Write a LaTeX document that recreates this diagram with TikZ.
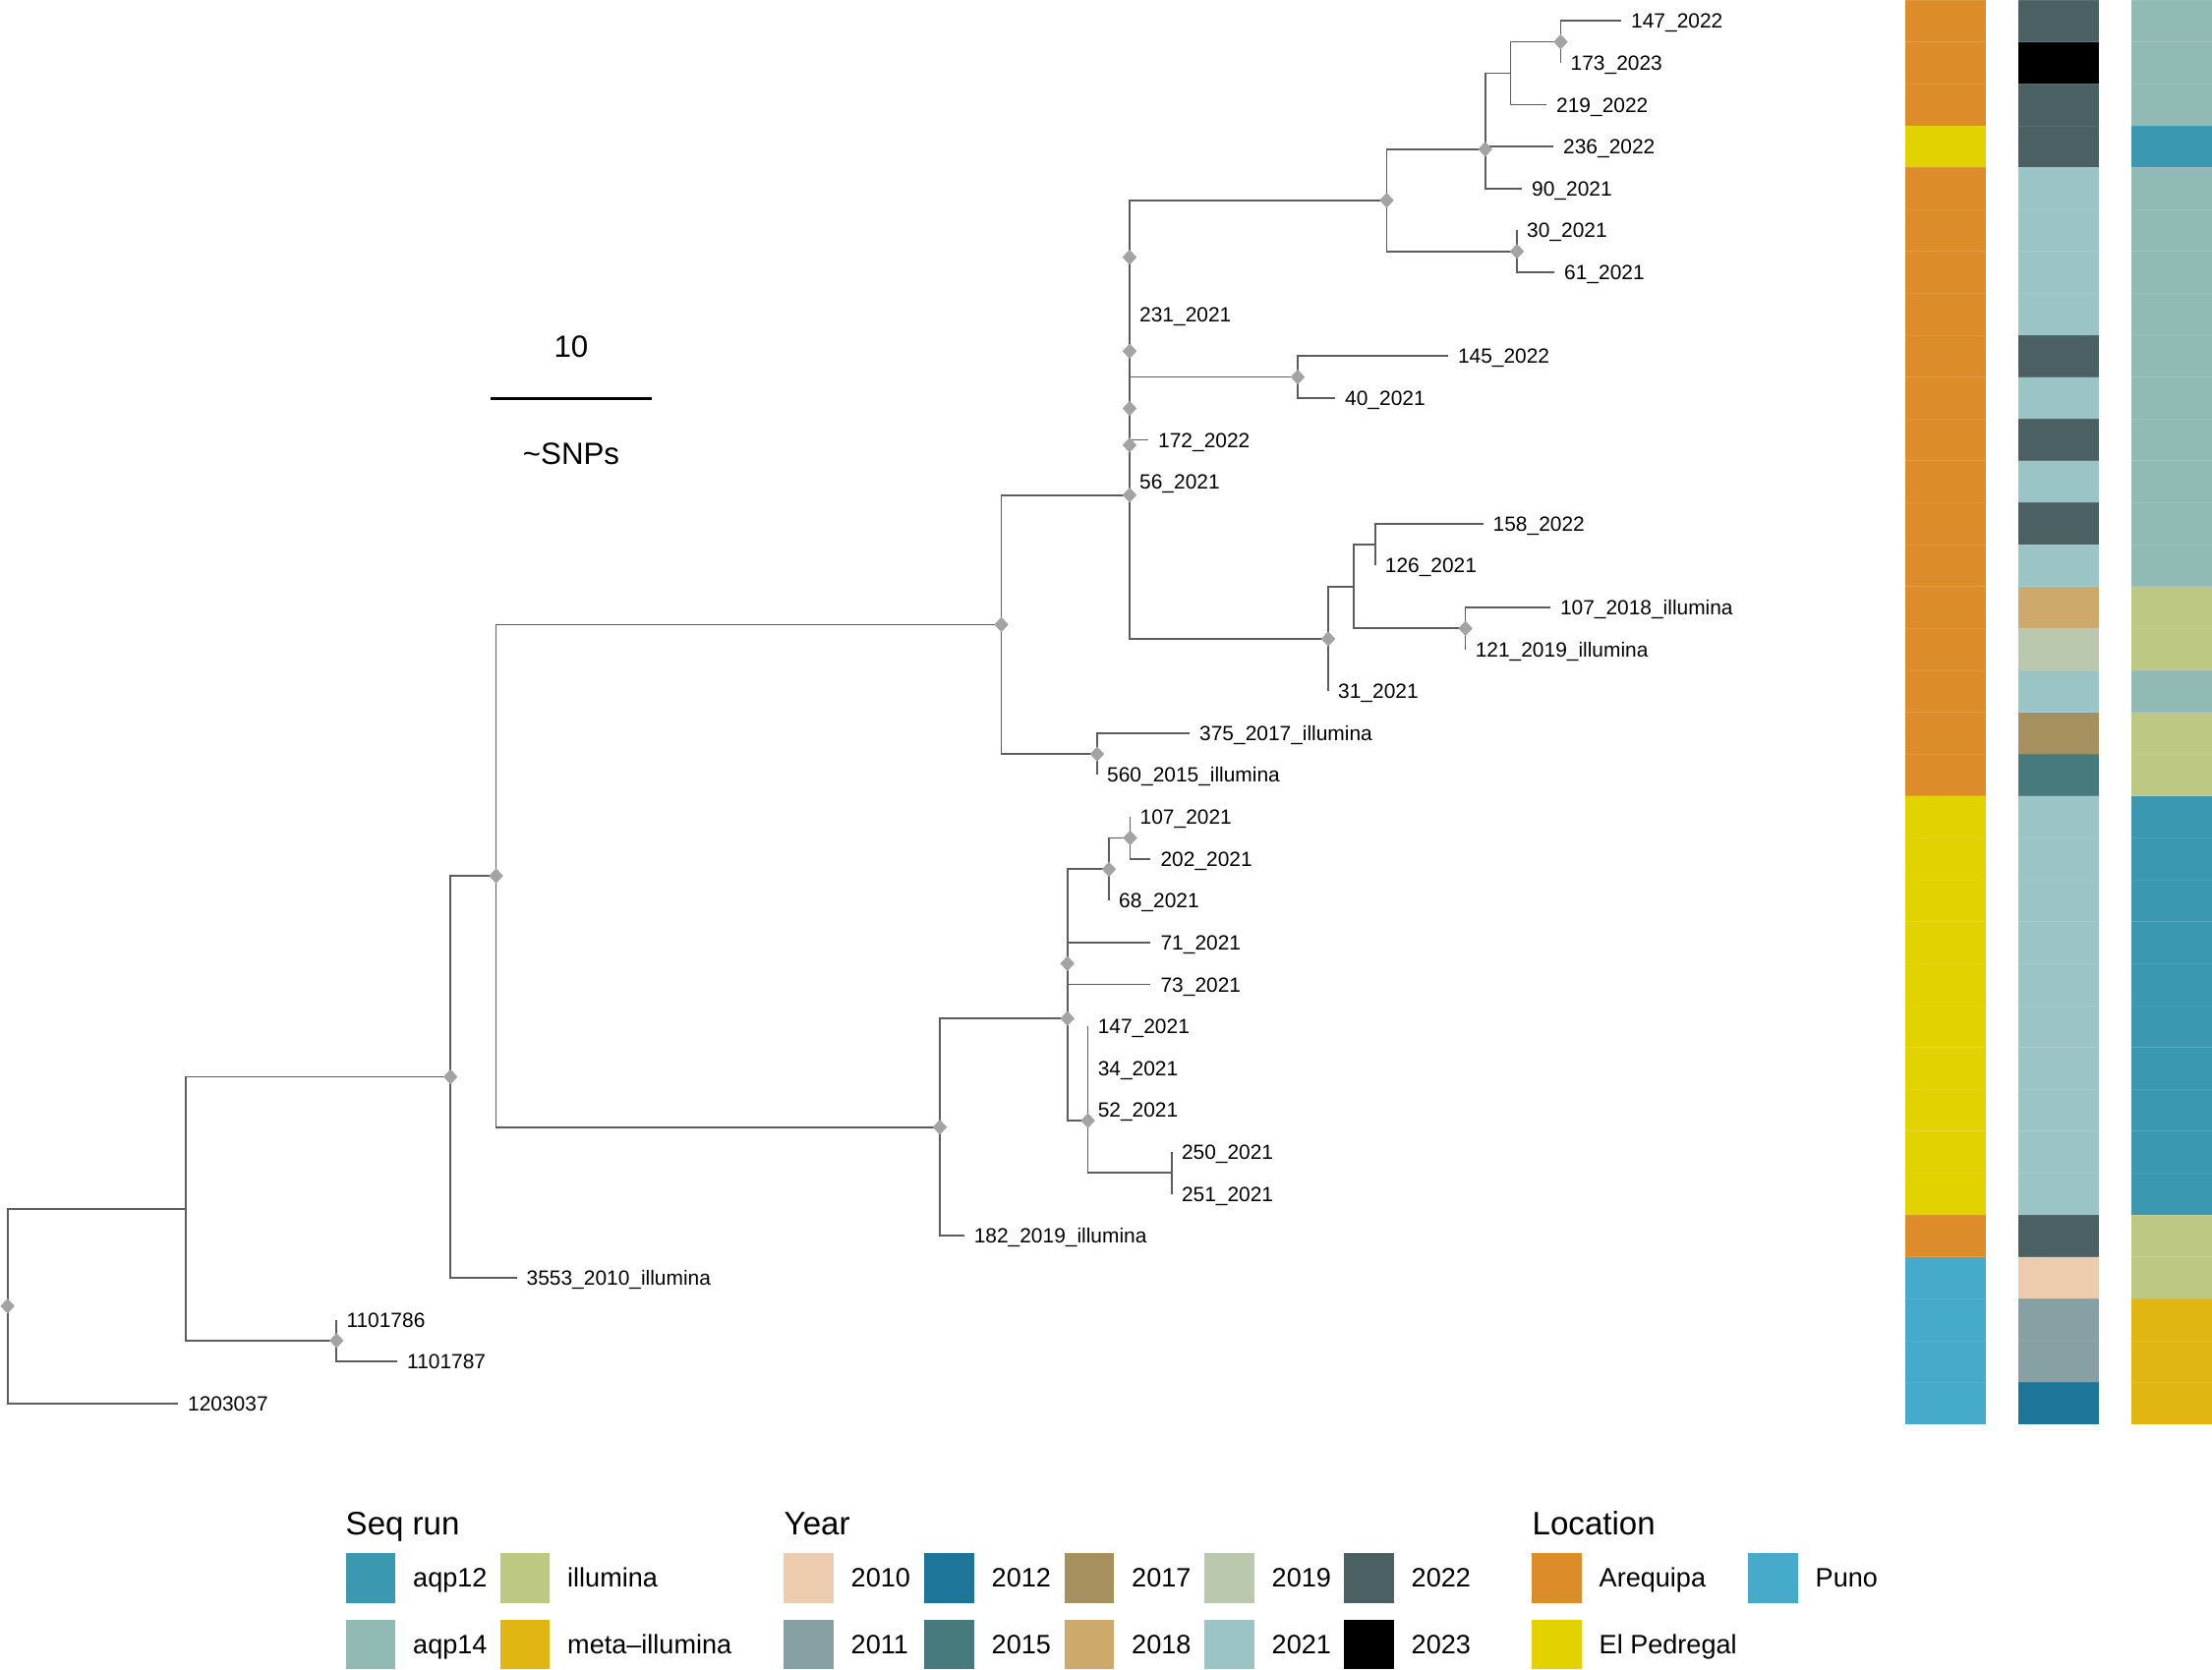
\documentclass[tikz,border=0pt]{standalone}
\usepackage{fontspec}
\setmainfont{Liberation Sans}
\usetikzlibrary{shapes.geometric}

% tree colours
\definecolor{treeline}{HTML}{5C5C5C}
\definecolor{supportgray}{HTML}{A3A3A3}
% location
\definecolor{locAQ}{HTML}{DD8C2A}
\definecolor{locEP}{HTML}{E2D200}
\definecolor{locPU}{HTML}{46ABCA}
% year
\definecolor{y2010}{HTML}{EDCBAE}
\definecolor{y2011}{HTML}{86A0A3}
\definecolor{y2012}{HTML}{1D759A}
\definecolor{y2015}{HTML}{467A7D}
\definecolor{y2017}{HTML}{A6905E}
\definecolor{y2018}{HTML}{CEA96C}
\definecolor{y2019}{HTML}{BAC9AE}
\definecolor{y2021}{HTML}{9AC4C6}
\definecolor{y2022}{HTML}{4B6063}
\definecolor{y2023}{HTML}{000000}
% sequencing run
\definecolor{sqA12}{HTML}{3A98B0}
\definecolor{sqA14}{HTML}{92BAB5}
\definecolor{sqILL}{HTML}{BDC982}
\definecolor{sqMETA}{HTML}{E1B612}

\begin{document}
\begin{tikzpicture}[x=0.01cm,y=-0.01cm,
  branch/.style={draw=treeline, line width=0.5pt},
  support/.style={diamond, fill=supportgray, draw=none, inner sep=0pt,
    minimum width=0.15cm, minimum height=0.16cm},
  tiplabel/.style={anchor=base west, inner sep=0pt, xshift=0.095cm, yshift=-0.075cm,
    font=\fontsize{5.95pt}{7pt}\selectfont},
  legtitle/.style={anchor=base west, inner sep=0pt, font=\fontsize{9.4pt}{11pt}\selectfont},
  leglabel/.style={anchor=base west, inner sep=0pt, yshift=-2.75pt,
    font=\fontsize{7.7pt}{9pt}\selectfont},
  scaletext/.style={anchor=base, inner sep=0pt, font=\fontsize{8.9pt}{10pt}\selectfont},
  tile/.style={draw=white, draw opacity=0.08, line width=0.2pt}]

\useasboundingbox (0,0) rectangle (2250,1699);

% ---------- tips ----------
\coordinate (t0)  at (1649,   21.30);
\coordinate (t1)  at (1587.5, 63.92);
\coordinate (t2)  at (1573,  106.54);
\coordinate (t3)  at (1580,  149.16);
\coordinate (t4)  at (1548,  191.78);
\coordinate (t5)  at (1543,  234.40);
\coordinate (t6)  at (1581,  277.02);
\coordinate (t7)  at (1149,  319.64);
\coordinate (t8)  at (1472.8,362.26);
\coordinate (t9)  at (1358,  404.88);
\coordinate (t10) at (1168,  447.50);
\coordinate (t11) at (1149,  490.12);
\coordinate (t12) at (1508.5,532.74);
\coordinate (t13) at (1398.7,575.36);
\coordinate (t14) at (1576.8,617.98);
\coordinate (t15) at (1490.6,660.60);
\coordinate (t16) at (1351,  703.22);
\coordinate (t17) at (1210,  745.84);
\coordinate (t18) at (1116,  788.46);
\coordinate (t19) at (1149.5,831.08);
\coordinate (t20) at (1170.4,873.70);
\coordinate (t21) at (1128,  916.32);
\coordinate (t22) at (1170.4,958.94);
\coordinate (t23) at (1170.4,1001.56);
\coordinate (t24) at (1106.6,1044.18);
\coordinate (t25) at (1106.6,1086.80);
\coordinate (t26) at (1106.6,1129.42);
\coordinate (t27) at (1191.8,1172.04);
\coordinate (t28) at (1191.8,1214.66);
\coordinate (t29) at (980.6, 1257.28);
\coordinate (t30) at (525.5, 1299.90);
\coordinate (t31) at (342.3, 1342.52);
\coordinate (t32) at (404,   1385.14);
\coordinate (t33) at (181,   1427.76);

% ---------- internal nodes ----------
\coordinate (root) at (7.7,   1328.71);
\coordinate (A)    at (189.3, 1229.66);
\coordinate (B)    at (458.2, 1095.48);
\coordinate (C)    at (342.3, 1363.83);
\coordinate (D)    at (504.6,  891.06);
\coordinate (E)    at (1018.6, 635.38);
\coordinate (F)    at (956,   1146.74);
\coordinate (G)    at (1149,   503.61);
\coordinate (Gb)   at (1149,   357.27);
\coordinate (Ga)   at (1149,   261.70);
\coordinate (Gd)   at (1149,   452.83);
\coordinate (Gc)   at (1149,   415.54);
\coordinate (P1)   at (1410.5, 203.77);
\coordinate (N3)   at (1510.7, 151.82);
\coordinate (N3a)  at (1510.7, 111.87);
\coordinate (N2)   at (1536.6,  74.58);
\coordinate (N1)   at (1587.5,  42.61);
\coordinate (N4)   at (1543,   255.71);
\coordinate (N5)   at (1320,   383.57);
\coordinate (N6)   at (1351,   649.94);
\coordinate (N7)   at (1377,   596.67);
\coordinate (N8)   at (1398.7, 554.05);
\coordinate (N9)   at (1490.6, 639.29);
\coordinate (H)    at (1116,   767.15);
\coordinate (Q)    at (1085.7,1036.19);
\coordinate (Qc)   at (1085.7, 932.30);
\coordinate (Qa)   at (1085.7, 980.25);
\coordinate (R)    at (1128,   884.36);
\coordinate (S)    at (1149.5, 852.39);
\coordinate (T)    at (1106.6,1140.08);
\coordinate (T1)   at (1106.6,1086.80);
\coordinate (U)    at (1191.8,1193.35);

% ---------- branches (rectangular layout) ----------
\foreach \p/\c in {root/A, root/t33, A/B, A/C, C/t31, C/t32, B/D, B/t30,
    D/E, D/F, E/G, E/H, H/t17, H/t18, G/Gb, G/N6, Gb/Ga, Gb/Gd,
    Ga/P1, Ga/t7, Gd/Gc, Gd/t11, Gc/N5, Gc/t10, N5/t8, N5/t9,
    P1/N3, P1/N4, N3/N3a, N3/t4, N3a/N2, N3a/t3, N2/N1, N2/t2, N1/t0, N1/t1,
    N4/t5, N4/t6, N6/N7, N6/t16, N7/N8, N7/N9, N8/t12, N8/t13, N9/t14, N9/t15,
    F/Q, F/t29, Q/Qc, Q/T, Qc/R, Qc/Qa, R/S, R/t21, S/t19, S/t20,
    Qa/t22, Qa/t23, T/T1, T/U, T1/t24, T1/t25, T1/t26, U/t27, U/t28}
  \draw[branch] (\p) |- (\c);

% ---------- supported nodes ----------
\foreach \n in {root, B, C, D, E, F, G, Ga, Gb, Gc, Gd, P1, N3, N1, N4, N5,
    N6, N9, H, Q, Qa, R, S, T}
  \node[support] (s-\n) at (\n) {};

% ---------- tip labels ----------
\foreach \t/\txt in {t0/147\_2022, t1/173\_2023, t2/219\_2022, t3/236\_2022,
    t4/90\_2021, t5/30\_2021, t6/61\_2021, t7/231\_2021, t8/145\_2022,
    t9/40\_2021, t10/172\_2022, t11/56\_2021, t12/158\_2022, t13/126\_2021,
    t14/107\_2018\_illumina, t15/121\_2019\_illumina, t16/31\_2021,
    t17/375\_2017\_illumina, t18/560\_2015\_illumina, t19/107\_2021,
    t20/202\_2021, t21/68\_2021, t22/71\_2021, t23/73\_2021, t24/147\_2021,
    t25/34\_2021, t26/52\_2021, t27/250\_2021, t28/251\_2021,
    t29/182\_2019\_illumina, t30/3553\_2010\_illumina, t31/1101786,
    t32/1101787, t33/1203037}
  \node[tiplabel] (l-\t) at (\t) {\txt};

% ---------- scale bar ----------
\coordinate (sb-l) at (498.5, 405.7);
\coordinate (sb-r) at (662.8, 405.7);
\draw[line width=0.85pt] (sb-l) -- (sb-r);
\node[scaletext] (sb-num) at (581, 363) {10};
\node[scaletext] (sb-unit) at (581, 472) {\textasciitilde SNPs};

% ---------- annotation columns ----------
\foreach \c [count=\i from 0] in {locAQ,locAQ,locAQ,locEP,
    locAQ,locAQ,locAQ,locAQ,locAQ,locAQ,locAQ,locAQ,locAQ,locAQ,locAQ,locAQ,locAQ,locAQ,locAQ,
    locEP,locEP,locEP,locEP,locEP,locEP,locEP,locEP,locEP,locEP,
    locAQ,locPU,locPU,locPU,locPU}
  \fill[\c, tile] (1937.5,{42.62*\i}) rectangle (2020,{42.62*(\i+1)});

\foreach \c [count=\i from 0] in {y2022,y2023,y2022,y2022,
    y2021,y2021,y2021,y2021,y2022,y2021,y2022,y2021,y2022,y2021,
    y2018,y2019,y2021,y2017,y2015,
    y2021,y2021,y2021,y2021,y2021,y2021,y2021,y2021,y2021,y2021,
    y2022,y2010,y2011,y2011,y2012}
  \fill[\c, tile] (2052.5,{42.62*\i}) rectangle (2135,{42.62*(\i+1)});

\foreach \c [count=\i from 0] in {sqA14,sqA14,sqA14,sqA12,
    sqA14,sqA14,sqA14,sqA14,sqA14,sqA14,sqA14,sqA14,sqA14,sqA14,
    sqILL,sqILL,sqA14,sqILL,sqILL,
    sqA12,sqA12,sqA12,sqA12,sqA12,sqA12,sqA12,sqA12,sqA12,sqA12,
    sqILL,sqILL,sqMETA,sqMETA,sqMETA}
  \fill[\c, tile] (2167.5,{42.62*\i}) rectangle (2250,{42.62*(\i+1)});

% ---------- legends ----------
\node[legtitle] (lt-seq) at (351, 1561) {Seq run};
\node[legtitle] (lt-year) at (797, 1561) {Year};
\node[legtitle] (lt-loc) at (1558, 1561) {Location};

\foreach \x/\y/\c/\txt in {
    351.5/1580/sqA12/aqp12, 508.5/1580/sqILL/illumina,
    351.5/1647.5/sqA14/aqp14, 508.5/1647.5/sqMETA/meta–illumina,
    797/1580/y2010/2010, 940/1580/y2012/2012, 1082.5/1580/y2017/2017,
    1225/1580/y2019/2019, 1367/1580/y2022/2022,
    797/1647.5/y2011/2011, 940/1647.5/y2015/2015, 1082.5/1647.5/y2018/2018,
    1225/1647.5/y2021/2021, 1367/1647.5/y2023/2023,
    1558/1580/locAQ/Arequipa, 1778/1580/locPU/Puno,
    1558/1647.5/locEP/El Pedregal}
{
  \fill[\c] (\x,\y) rectangle ++(50.5,50.5);
  \node[leglabel] (key-\c) at ({\x+68},{\y+25.25}) {\txt};
}

\end{tikzpicture}
\end{document}
